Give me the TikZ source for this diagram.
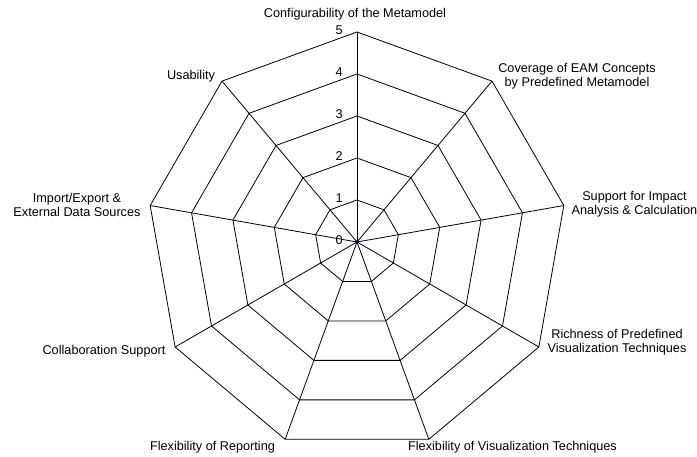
\documentclass[tikz,border=0pt]{standalone}
\usepackage{fontspec}
\setmainfont{Liberation Sans}
\usetikzlibrary{calc}
\begin{document}
\begin{tikzpicture}[x=1pt,y=1pt,
  grid/.style={black,line width=0.8pt,line join=miter},
  axislabel/.style={font=\fontsize{12.7}{14}\selectfont,align=center,inner sep=0pt},
  scalelabel/.style={font=\fontsize{12.7}{14}\selectfont,inner sep=0pt,anchor=east}]
\useasboundingbox (0,0) rectangle (697,457);
% centre of the chart and one ring step
\coordinate (c) at (357,215);
\def\ringstep{42}
% rings 1..5 (nonagon, first vertex at the top)
\foreach \k in {1,...,5}{
  \draw[grid] ($(c)+(90:\k*\ringstep)$)
    \foreach \a in {50,10,-30,-70,-110,-150,170,130}{ -- ($(c)+(\a:\k*\ringstep)$)} -- cycle;
}
% spokes
\foreach \a [count=\i] in {90,50,10,-30,-70,-110,-150,170,130}{
  \coordinate (v\i) at ($(c)+(\a:5*\ringstep)$);
  \draw[grid] (c) -- (v\i);
}
% scale numbers along the top axis
\foreach \k in {0,...,5}{
  \node[scalelabel] (s\k) at ($(c)+(-14,\k*\ringstep+1.5)$) {\k};
}
% data point at the centre
\fill[fill=black!60!blue!80!black] (c) circle (1.8);
% axis labels
\node[axislabel] (l1) at (355,443) {Configurability of the Metamodel};
\node[axislabel] (l2) at (577,381) {Coverage of EAM Concepts\\by Predefined Metamodel};
\node[axislabel] (l3) at (634.5,253) {Support for Impact\\Analysis \& Calculation};
\node[axislabel] (l4) at (617,115) {Richness of Predefined\\Visualization Techniques};
\node[axislabel] (l5) at (512.5,10) {Flexibility of Visualization Techniques};
\node[axislabel] (l6) at (212.5,10) {Flexibility of Reporting};
\node[axislabel] (l7) at (104,106) {Collaboration Support};
\node[axislabel] (l8) at (77,252) {Import/Export \&\\External Data Sources};
\node[axislabel] (l9) at (191,381) {Usability};
\end{tikzpicture}
\end{document}
